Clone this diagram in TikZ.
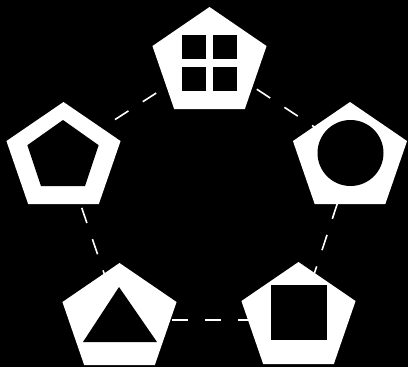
\documentclass[tikz,border=0pt]{standalone}
\usepackage{tikz}
\usetikzlibrary{arrows.meta}
\tikzset{
  every picture/.style={line join=round, line cap=butt},
  ring/.style={draw=white, line width=1.6pt, dash pattern=on 16pt off 17pt},
  shell/.style={fill=white},
  hole/.style={fill=black},
}
% pentagon: centre x, centre y, radius x, radius y, style
\newcommand{\pent}[5]{\fill[#5] ({#1},{#2-#4}) \foreach \a in {162,234,306,18}{ -- ({#1+#3*cos(\a)},{#2-#4*sin(\a)}) } -- cycle;}

\begin{document}
\begin{tikzpicture}[x=1pt,y=-1pt]
\fill[black] (0,0) rectangle (408,367);
\useasboundingbox (0,0) rectangle (408,367);
% corners of the ring
\coordinate (grid) at (210,58.5);
\coordinate (circ) at (354,153);
\coordinate (sq) at (299,320);
\coordinate (tri) at (120,320);
\coordinate (pent) at (63,153);
\draw[ring,dash phase=4.2pt] (pent) -- (grid);
\draw[ring,dash phase=10pt] (grid) -- (circ);
\draw[ring,dash phase=12.7pt] (circ) -- (sq);
\draw[ring,dash phase=14pt] (tri) -- (sq);
\draw[ring,dash phase=8pt] (pent) -- (tri);
% outer pentagons
\pent{209.5}{63.5}{60}{56.5}{shell}
\pent{63.5}{158.5}{60}{56.5}{shell}
\pent{350}{158.5}{60}{56.5}{shell}
\pent{119.5}{319.5}{60}{56.5}{shell}
\pent{298.5}{318.5}{60}{56.5}{shell}
% icons
\foreach \x in {182,213}{\foreach \y in {35,67}{\fill[hole] (\x,\y) rectangle ++(23.5,23.5);}}
\pent{63}{156.5}{37.5}{36.5}{hole}
\fill[hole] (350.5,153) circle[radius=33];
\fill[hole] (119,287) -- (83,342) -- (157,342) -- cycle;
\fill[hole] (271,285) rectangle (327,340);
\end{tikzpicture}
\end{document}
